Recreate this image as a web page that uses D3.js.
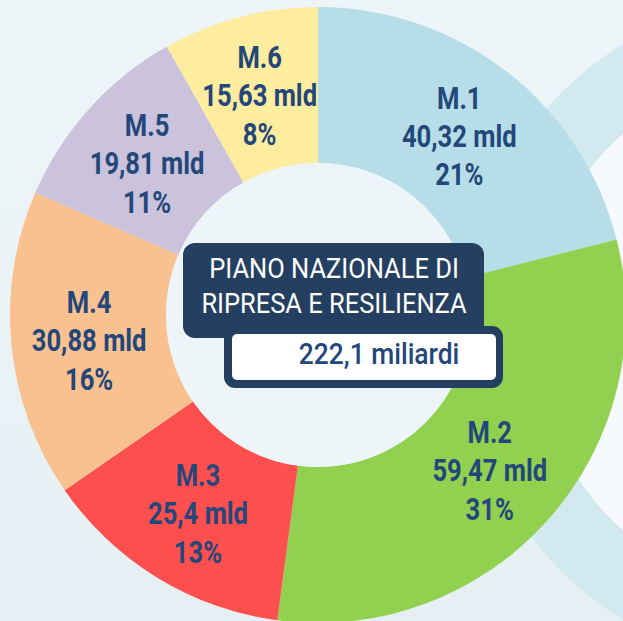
<!DOCTYPE html>
<html lang="it">
<head>
    <meta charset="UTF-8">
    <title>PNRR - missioni</title>
    <script src="https://cdn.jsdelivr.net/npm/d3@7/dist/d3.min.js"></script>
    <style>
        html, body { margin: 0; padding: 0; background: #eaf3f7; }
        svg { display: block; }
    </style>
</head>
<body>
    <script>
        // dati
        var missioni = ["M.1", "M.2", "M.3", "M.4", "M.5", "M.6"];
        var miliardi = [40.32, 59.47, 25.4, 30.88, 19.81, 15.63];
        var etichette = ["40,32 mld", "59,47 mld", "25,4 mld", "30,88 mld", "19,81 mld", "15,63 mld"];
        var percentuali = ["21%", "31%", "13%", "16%", "11%", "8%"];
        var colori = ["#b7dee8", "#92d050", "#fe4f4f", "#f9c18f", "#cbc2dc", "#feec9f"];
        var titolo = ["PIANO NAZIONALE DI", "RIPRESA E RESILIENZA"];
        var totale = "222,1 miliardi";

        var width = 623,
            height = 621,
            cx = 318,
            cy = 315,
            outerR = 308,
            innerR = 152;

        var svg = d3.select("body").append("svg")
            .attr("width", width)
            .attr("height", height);

        var defs = svg.append("defs");
        var grad = defs.append("linearGradient")
            .attr("id", "bg")
            .attr("x1", 0).attr("y1", 0).attr("x2", 0).attr("y2", 1);
        grad.append("stop").attr("offset", "0%").attr("stop-color", "#eef5f8");
        grad.append("stop").attr("offset", "100%").attr("stop-color", "#e6f0f4");

        svg.append("rect")
            .attr("width", width)
            .attr("height", height)
            .attr("fill", "url(#bg)");

        // anello decorativo sullo sfondo a destra
        svg.append("circle")
            .attr("cx", 800).attr("cy", 332).attr("r", 338)
            .attr("fill", "#d3e9f0");
        svg.append("circle")
            .attr("cx", 800).attr("cy", 332).attr("r", 266)
            .attr("fill", "#f6fafc");

        var data = missioni.map(function (m, i) {
            return { id: m, value: miliardi[i], mld: etichette[i], pct: percentuali[i], color: colori[i] };
        });

        var pie = d3.pie()
            .sort(null)
            .value(function (d) { return d.value; });

        var arc = d3.arc()
            .innerRadius(innerR)
            .outerRadius(outerR);

        var g = svg.append("g")
            .attr("transform", "translate(" + cx + "," + cy + ")");

        var slices = g.selectAll(".slice")
            .data(pie(data))
            .enter().append("g")
            .attr("class", "slice");

        slices.append("path")
            .attr("d", arc)
            .attr("fill", function (d) { return d.data.color; });

        // inner hole background
        g.append("circle")
            .attr("r", innerR)
            .attr("fill", "#eef5f8");

        var label = slices.append("g")
            .attr("transform", function (d) {
                var c = arc.centroid(d);
                return "translate(" + c[0] + "," + c[1] + ") scale(0.8,1)";
            })
            .style("font-family", "Roboto, sans-serif")
            .style("font-weight", 700)
            .style("font-size", "32px")
            .attr("fill", "#23477a")
            .attr("text-anchor", "middle");

        label.append("text").attr("y", -25).text(function (d) { return d.data.id; });
        label.append("text").attr("y", 13).text(function (d) { return d.data.mld; });
        label.append("text").attr("y", 52).text(function (d) { return d.data.pct; });

        // riquadro centrale
        var box = g.append("g");
        box.append("rect")
            .attr("x", -135).attr("y", -72)
            .attr("width", 301).attr("height", 95)
            .attr("rx", 12)
            .attr("fill", "#253f60");
        box.append("rect")
            .attr("x", -94).attr("y", 11)
            .attr("width", 279).attr("height", 62)
            .attr("rx", 11)
            .attr("fill", "#253f60");
        box.append("rect")
            .attr("x", -86).attr("y", 19)
            .attr("width", 264).attr("height", 46)
            .attr("rx", 5)
            .attr("fill", "#ffffff");

        box.selectAll(".titolo")
            .data(titolo)
            .enter().append("text")
            .attr("class", "titolo")
            .attr("transform", function (d, i) {
                return "translate(16," + (-37 + i * 35) + ") scale(0.91,1)";
            })
            .attr("text-anchor", "middle")
            .style("font-family", "Roboto, sans-serif")
            .style("font-size", "28px")
            .attr("fill", "#ffffff")
            .text(function (d) { return d; });

        box.append("text")
            .attr("transform", "translate(61,49) scale(0.88,1)")
            .attr("text-anchor", "middle")
            .style("font-family", "Roboto, sans-serif")
            .style("font-weight", 500)
            .style("font-size", "30px")
            .attr("fill", "#23477a")
            .text(totale);
    </script>
</body>
</html>
